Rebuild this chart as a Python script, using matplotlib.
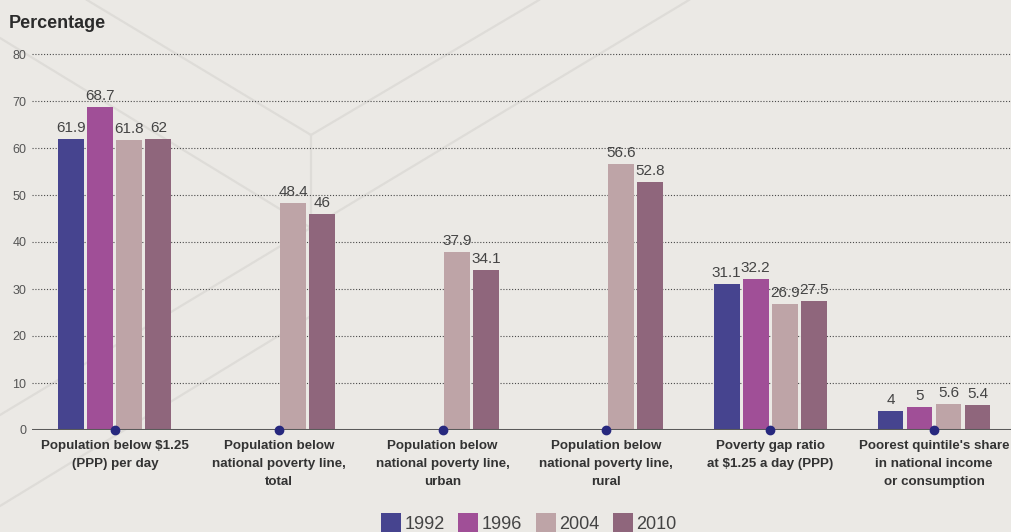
import numpy as np
import matplotlib
matplotlib.use("Agg")
import matplotlib.pyplot as plt
from matplotlib.lines import Line2D
from matplotlib.patches import Patch

plt.rcParams['font.family'] = ['Liberation Sans Narrow', 'Liberation Sans', 'DejaVu Sans']

# indicator groups along the x axis
categories = [
    "Population below $1.25\n(PPP) per day",
    "Population below\nnational poverty line,\ntotal",
    "Population below\nnational poverty line,\nurban",
    "Population below\nnational poverty line,\nrural",
    "Poverty gap ratio\nat $1.25 a day (PPP)",
    "Poorest quintile's share\nin national income\nor consumption",
]
years = ["1992", "1996", "2004", "2010"]
v1992 = [61.9, None, None, None, 31.1, 4]
v1996 = [68.7, None, None, None, 32.2, 5]
v2004 = [61.8, 48.4, 37.9, 56.6, 26.9, 5.6]
v2010 = [62, 46, 34.1, 52.8, 27.5, 5.4]
colors = ["#46448f", "#a04f97", "#bea4a7", "#8f667c"]

BG = "#ebe9e5"
W, H = 1012, 532

fig = plt.figure(figsize=(W / 100, H / 100), dpi=100, facecolor=BG)


def px(x, y):
    return x / W, 1 - y / H


# faint cube outline behind the plot
segments = [
    ((87, 0), (311, 135)),
    ((311, 135), (539, 0)),
    ((311, 135), (311, 316)),
    ((0, 38), (311, 228)),
    ((0, 415), (689, 0)),
    ((0, 506), (311, 316)),
]
for (x0, y0), (x1, y1) in segments:
    a, b = px(x0, y0), px(x1, y1)
    fig.add_artist(Line2D([a[0], b[0]], [a[1], b[1]], transform=fig.transFigure,
                          color="#dedcd8", lw=1.6, zorder=-1))

ax = fig.add_axes([32 / W, 102 / H, 980 / W, (430 - 35.2) / H])
ax.patch.set_alpha(0)
for s in ax.spines.values():
    s.set_visible(False)

x = np.arange(len(categories))
step = 0.177
width = 0.158
offsets = [-1.5, -0.5, 0.5, 1.5]
series = [v1992, v1996, v2004, v2010]

for vals, off, col in zip(series, offsets, colors):
    for i, v in enumerate(vals):
        if v is None:
            continue
        xi = x[i] + off * step
        ax.bar(xi, v, width=width, color=col, zorder=2)
        ax.text(xi, v + 0.8, f"{v:g}", ha="center", va="bottom",
                fontsize=11, color="#444444", zorder=5)

ax.set_xlim(-0.506, 5.476)
ax.set_ylim(0, 84)
ax.set_yticks(range(0, 81, 10))
ax.tick_params(axis="y", length=0, pad=4, labelsize=9, labelcolor="#555555")
for yv in range(10, 81, 10):
    ax.axhline(yv, color="#4a4a4a", lw=0.8, ls=(0, (1, 1.6)), zorder=1)
ax.axhline(0, color="#5a5a5a", lw=2.2, zorder=3)
ax.plot(x, np.zeros(len(x)), "o", color="#27287e", ms=6, zorder=4, clip_on=False)

ax.set_xticks(x)
ax.set_xticklabels(categories, fontsize=9.6, fontweight="bold", color="#333333",
                   linespacing=1.65)
ax.tick_params(axis="x", length=0, pad=7.5)

fig.text(9 / W, 1 - 28 / H, "Percentage", fontsize=13, fontweight="bold",
         color="#2b2b2b", va="baseline", ha="left")

handles = [Patch(facecolor=c, edgecolor="none") for c in colors]
fig.legend(handles, years, loc="upper left", bbox_to_anchor=(381 / W, 1 - 513 / H),
           ncol=4, frameon=False, fontsize=13, handlelength=1.1, handleheight=1.25,
           handletextpad=0.2, columnspacing=0.75, borderpad=0, borderaxespad=0,
           labelcolor="#444444")

fig.savefig("out.png", dpi=100, facecolor=BG)
